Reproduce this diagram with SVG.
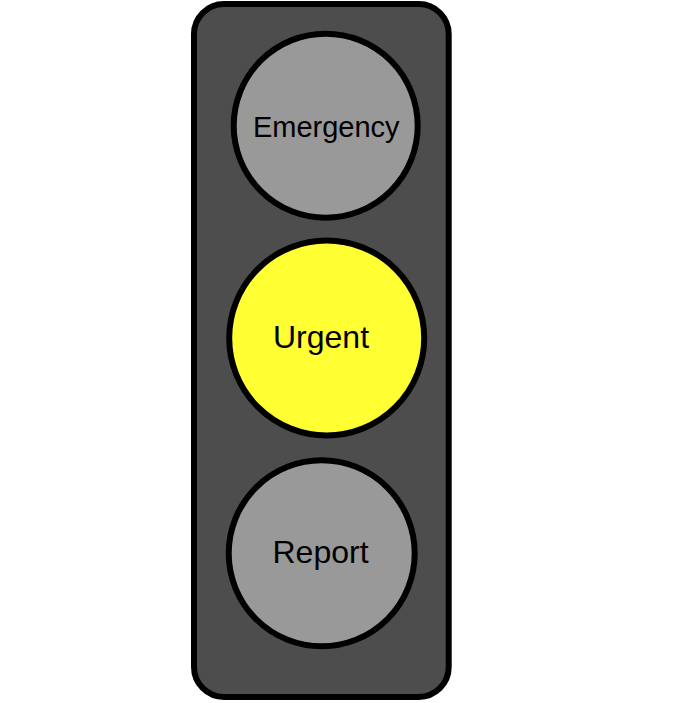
<svg xmlns="http://www.w3.org/2000/svg" width="675" height="703" viewBox="0 0 675 703">
<style>
.housing{fill:#4d4d4d;stroke:#000;stroke-width:6}
.lamp{stroke:#000;stroke-width:6}
.off{fill:#999999}
.on{fill:#ffff33}
.lbl{font-family:"Liberation Sans",Arial,sans-serif;fill:#000;text-anchor:middle}
</style>
<rect width="675" height="703" fill="#fff"/>
<g id="housing"><rect class="housing" x="194" y="4" width="254.7" height="693" rx="30" ry="30"/></g>
<g id="emergency"><circle class="lamp off" cx="325.7" cy="125.7" r="92"/><text class="lbl" x="326.3" y="136.7" font-size="29">Emergency</text></g>
<g id="urgent"><circle class="lamp on" cx="326.7" cy="338" r="97.5"/><text class="lbl" x="321" y="348" font-size="32">Urgent</text></g>
<g id="report"><circle class="lamp off" cx="321.7" cy="553.3" r="93"/><text class="lbl" x="320.5" y="562.7" font-size="32">Report</text></g>
<g id="connectors"/>
</svg>
